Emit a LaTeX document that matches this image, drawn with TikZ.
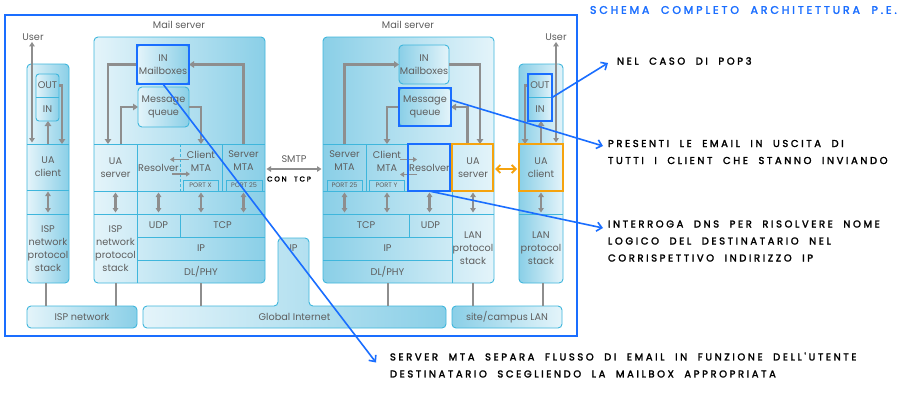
\documentclass[tikz,border=0pt]{standalone}
\usepackage{fontspec}
\usetikzlibrary{arrows.meta,calc}
\newfontfamily\figfont{Poppins}
\newfontfamily\handfont{Poppins}[LetterSpace=26,WordSpace=2.0,FakeBold=2.2]
\definecolor{cyl}{HTML}{3FB6DC}
\definecolor{lt}{HTML}{E4F4FA}
\definecolor{dk}{HTML}{8ACFE7}
\definecolor{gr}{HTML}{8E8E8E}
\definecolor{txt}{HTML}{5E5E5E}
\definecolor{hb}{HTML}{1A6EFF}
\definecolor{og}{HTML}{F5A30F}
\tikzset{
 lbl/.style={inner sep=0pt, outer sep=0pt, align=center, text=txt, font=\figfont\fontsize{9.7}{13}\selectfont},
 small/.style={lbl, font=\figfont\fontsize{6.5}{7}\selectfont},
 rb/.style={draw=cyl, line width=0.9pt, rounded corners=4pt, inner sep=0pt, outer sep=0pt},
 sepl/.style={draw=cyl, line width=0.9pt},
 garr/.style={draw=gr, line width=2.2pt, -{Triangle[length=5pt,width=6.5pt]}},
 gdbl/.style={draw=gr, line width=2.2pt, {Triangle[length=4.5pt,width=5.5pt]}-{Triangle[length=4.5pt,width=5.5pt]}, shorten >=1.5pt, shorten <=1.5pt},
 gline/.style={draw=gr, line width=2pt},
 hlb/.style={draw=hb, line width=2pt, inner sep=0pt, outer sep=0pt},
 hlo/.style={draw=og, line width=2pt, inner sep=0pt, outer sep=0pt},
 oarr/.style={draw=og, line width=1.8pt, {Straight Barb[length=4pt,width=8pt]}-{Straight Barb[length=4pt,width=8pt]}, shorten >=2pt, shorten <=2pt},
 callout/.style={draw=hb, line width=1.6pt, -{Straight Barb[length=5pt,width=9pt]}},
 hand/.style={inner sep=0pt, outer sep=0pt, anchor=west, align=left, text=black, font=\handfont\fontsize{10}{17}\selectfont},
}
\newcommand\bx[7][]{\node[#1, minimum width={(#5-#3)*1pt}, minimum height={(#6-#4)*1pt}] (#2) at ({(#3+#5)/2},{(#4+#6)/2}) {#7};}
\begin{document}
\begin{tikzpicture}[x=1pt,y=-1pt]
\useasboundingbox (0,0) rectangle (912,400);
\fill[white] (0,0) rectangle (912,400);
% frame
\draw[draw=hb, line width=2pt] (5,15) rectangle (577,336);
% outer boxes
\bx[rb,left color=lt,right color=dk]{colL}{27}{64}{69}{283}{}
\bx[rb,left color=lt,right color=dk]{srvL}{94}{37}{265}{283}{}
\bx[rb,left color=dk,right color=lt]{srvR}{323}{37}{494}{283}{}
\bx[rb,left color=dk,right color=lt]{colR}{519}{64}{563}{283}{}
\node[lbl] (msL) at (179,25) {Mail server};
\node[lbl] (msR) at (408,25) {Mail server};
\node[lbl] (userL) at (33,37) {User};
\node[lbl] (userR) at (556,37) {User};
% separators
\draw[sepl] (27,144) -- (69,144) (27,190) -- (69,190) (27,214) -- (69,214);
\draw[sepl] (94,144) -- (265,144) (94,191) -- (265,191) (94,214) -- (265,214)
  (137,237) -- (265,237) (137,260) -- (265,260) (137,144) -- (137,283)
  (222,144) -- (222,191) (180,214) -- (180,237);
\draw[sepl, dash pattern=on 3pt off 2pt] (180,144) -- (180,191);
\draw[sepl] (323,144) -- (494,144) (323,191) -- (494,191) (323,214) -- (494,214)
  (323,237) -- (452,237) (323,260) -- (452,260) (366,144) -- (366,191)
  (408,144) -- (408,191) (452,144) -- (452,283) (409,214) -- (409,237);
\draw[sepl] (519,144) -- (563,144) (519,191) -- (563,191) (519,214) -- (563,214);
% ports
\bx[small,draw=cyl,line width=0.8pt]{pX}{183}{180}{218}{191}{PORT X}
\bx[small,draw=cyl,line width=0.8pt]{p25L}{226}{180}{262}{191}{PORT 25}
\bx[small,draw=cyl,line width=0.8pt]{p25R}{327}{180}{362}{191}{PORT 25}
\bx[small,draw=cyl,line width=0.8pt]{pY}{369}{180}{404}{191}{PORT Y}
% inner boxes
\bx[rb,rounded corners=3pt,left color=lt,right color=dk]{oiL}{36}{74}{59}{121}{}
\draw[sepl] (36,97) -- (59,97);
\bx[lbl]{outL}{36}{74}{59}{97}{OUT}
\bx[lbl]{inL}{36}{97}{59}{121}{IN}
\bx[rb,rounded corners=3pt,left color=dk,right color=lt]{oiR}{528}{74}{552}{121}{}
\draw[sepl] (528,97) -- (552,97);
\bx[lbl]{outR}{528}{74}{552}{97}{OUT}
\bx[lbl]{inR}{528}{97}{552}{121}{IN}
\bx[lbl,rb,left color=lt,right color=dk]{mbL}{137}{45}{189}{84}{IN\\Mailboxes}
\bx[lbl,rb,left color=lt,right color=dk]{mqL}{138}{87}{189}{127}{Message\\queue}
\bx[lbl,rb,left color=dk,right color=lt]{mbR}{399}{45}{449}{84}{IN\\Mailboxes}
\bx[lbl,rb,left color=dk,right color=lt]{mqR}{399}{88}{451}{126}{Message\\queue}
% cells left
\bx[lbl]{uacL}{27}{144}{69}{190}{UA\\client}
\bx[lbl]{ispL}{27}{214}{69}{283}{ISP\\network\\protocol\\stack}
\bx[lbl]{uasL}{94}{144}{137}{191}{UA\\server}
\bx[lbl]{resL}{137}{144}{180}{191}{Resolver}
\bx[lbl]{cmL}{180}{144}{222}{191}{}
\bx[lbl]{smL}{222}{144}{265}{191}{}
\node[lbl] (cmLt) at (201,161) {Client\\MTA};
\node[lbl] (smLt) at (243.5,161) {Server\\MTA};
\bx[lbl]{ispS}{94}{214}{137}{283}{ISP\\network\\protocol\\stack}
\bx[lbl]{udpL}{137}{214}{180}{237}{UDP}
\bx[lbl]{tcpL}{180}{214}{265}{237}{TCP}
\bx[lbl]{ipL}{137}{237}{265}{260}{IP}
\bx[lbl]{dlL}{137}{260}{265}{283}{DL/PHY}
% cells right
\bx[lbl]{smR}{323}{144}{366}{191}{}
\bx[lbl]{cmR}{366}{144}{408}{191}{}
\node[lbl] (smRt) at (344.5,161) {Server\\MTA};
\node[lbl] (cmRt) at (387,161) {Client\\MTA};
\bx[lbl]{resR}{408}{144}{451}{191}{Resolver}
\bx[lbl]{uasR}{452}{144}{494}{191}{UA\\server}
\bx[lbl]{tcpR}{323}{214}{409}{237}{TCP}
\bx[lbl]{udpR}{409}{214}{452}{237}{UDP}
\bx[lbl]{ipR}{323}{237}{452}{260}{IP}
\bx[lbl]{dlR}{323}{260}{452}{283}{DL/PHY}
\bx[lbl]{lanS}{452}{214}{494}{283}{LAN\\protocol\\stack}
\bx[lbl]{uacR}{519}{144}{563}{191}{UA\\client}
\bx[lbl]{lanC}{519}{214}{563}{283}{LAN\\protocol\\stack}
% networks
\path[draw=cyl, line width=0.9pt, left color=lt, right color=dk, rounded corners=4pt]
  (143,306) -- (278,306) -- (278,238) -- (309,238) -- (309,306) -- (446,306) -- (446,328) -- (143,328) -- cycle;
\bx[lbl]{ginet}{143}{306}{446}{328}{Global Internet}
\node[lbl] (gip) at (293.5,248) {IP};
\bx[lbl,rb,left color=lt,right color=dk]{ispnet}{27}{306}{137}{328}{ISP network}
\bx[lbl,rb,left color=dk,right color=lt]{lan}{452}{306}{562}{328}{site/campus LAN}
% gray connectors to networks
\draw[gline] ([xshift=-2pt]colL.south) -- ([xshift=-2pt]colL.south |- ispnet.north);
\draw[gline] (ispS.south) -- (ispS.south |- ispnet.north);
\draw[gline] (dlL.south) -- (dlL.south |- ginet.north);
\draw[gline] (dlR.south) -- (dlR.south |- ginet.north);
\draw[gline] (lanS.south) -- (lanS.south |- lan.north);
\draw[gline] ([xshift=2pt]colR.south) -- ([xshift=2pt]colR.south |- lan.north);
% user arrows
\draw[gdbl] ([xshift=-16pt]uacL.north) -- ([xshift=-16pt]uacL.north |- userL.south);
\draw[garr] (uacL.north) -- (uacL.north |- inL.south);
\draw[garr] (outL.east) -| ([xshift=14pt]uacL.north);
\draw[gdbl] ([xshift=15pt]uacR.north) -- ([xshift=15pt]uacR.north |- userR.south);
\draw[garr] (uacR.north) -- (uacR.north |- inR.south);
\draw[garr] (outR.west) -| ([xshift=-16pt]uacR.north);
% left server arrows
\draw[garr] ([xshift=5.5pt]uasL.north) |- (mqL.west);
\draw[garr] (mbL.west) -| ([xshift=-7.5pt]uasL.north);
\draw[garr] (mqL.east) -| (cmL.north);
\draw[garr] (smL.north) |- (mbL.east);
\draw[draw=gr, line width=1.8pt, -{Triangle[length=4pt,width=5pt]}] ([xshift=9pt,yshift=8pt]cmL.west) -- ([xshift=-10pt,yshift=8pt]cmL.west);
\draw[draw=gr, line width=1.8pt, -{Triangle[length=4pt,width=5pt]}] ([xshift=-8pt,yshift=-6.5pt]cmL.west) -- ([xshift=10pt,yshift=-6.5pt]cmL.west);
% right server arrows
\draw[garr] (smR.north) |- (mbR.west);
\draw[garr] (mbR.east) -| ([xshift=7pt]uasR.north);
\draw[garr] ([xshift=-5.5pt]uasR.north) |- (mqR.east);
\draw[garr] (mqR.west) -| (cmR.north);
\draw[draw=gr, line width=1.8pt, -{Triangle[length=4pt,width=5pt]}] ([xshift=-8pt,yshift=8pt]resR.west) -- ([xshift=9pt,yshift=8pt]resR.west);
\draw[draw=gr, line width=1.8pt, -{Triangle[length=4pt,width=5pt]}] ([xshift=9pt,yshift=-7pt]resR.west) -- ([xshift=-8pt,yshift=-7pt]resR.west);
% arrow rows
\draw[gdbl] (uacL.south) -- (ispL.north);
\draw[gdbl] (uasL.south) -- (ispS.north);
\draw[gdbl] (resL.south) -- (udpL.north);
\draw[gdbl] (cmL.south) -- (cmL.south |- tcpL.north);
\draw[gdbl] (smL.south) -- (smL.south |- tcpL.north);
\draw[gdbl] (smR.south) -- (smR.south |- tcpR.north);
\draw[gdbl] (cmR.south) -- (cmR.south |- tcpR.north);
\draw[gdbl] (resR.south) -- (resR.south |- udpR.north);
\draw[gdbl] (uasR.south) -- (lanS.north);
\draw[gdbl] (uacR.south) -- (lanC.north);
% SMTP
\draw[gdbl] ([yshift=-1.5pt]smL.east) -- ([yshift=-1.5pt]smR.west);
\node[lbl] (smtp) at (294,159) {SMTP};
\node[hand, anchor=center, font=\handfont\fontsize{7}{8}\selectfont] (tcon) at (289,179) {CON TCP};
% highlights
\bx[hlb]{hMbL}{137}{45}{189}{84}{}
\bx[hlb]{hMqR}{399}{88}{451}{126}{}
\bx[hlb]{hResR}{408}{144}{450}{191}{}
\bx[hlo]{hUasR}{452}{144}{493}{191}{}
\bx[hlo]{hUacR}{519}{144}{563}{191}{}
\bx[hlb]{hOiR}{528}{74}{552}{121}{}
\draw[oarr] ([yshift=-1.5pt]hUasR.east) -- ([yshift=-1.5pt]hUacR.west);
% callout texts
\node[hand, text=hb, font=\handfont\fontsize{11}{13}\selectfont] (title) at (590,10) {SCHEMA COMPLETO ARCHITETTURA P.E.};
\node[hand] (tPop) at (617,61) {NEL CASO DI POP3};
\node[hand] (tPres) at (608,152) {PRESENTI LE EMAIL IN USCITA DI\\TUTTI I CLIENT CHE STANNO INVIANDO};
\node[hand] (tDns) at (608,241) {INTERROGA DNS PER RISOLVERE NOME\\LOGICO DEL DESTINATARIO NEL\\CORRISPETTIVO INDIRIZZO IP};
\node[hand] (tSrv) at (390,365) {SERVER MTA SEPARA FLUSSO DI EMAIL IN FUNZIONE DELL'UTENTE\\DESTINATARIO SCEGLIENDO LA MAILBOX APPROPRIATA};
% callouts
\draw[callout] (hOiR.east) -- ([shift={(-9,2)}]tPop.west);
\draw[callout] ([yshift=7pt]hMqR.east) -- ([shift={(-5,-6)}]tPres.west);
\draw[callout] (hResR.south) -- ([shift={(-5,-13)}]tDns.west);
\draw[callout] (hMbL.south) -- ([shift={(-14,-2.5)}]tSrv.west);
\end{tikzpicture}
\end{document}
